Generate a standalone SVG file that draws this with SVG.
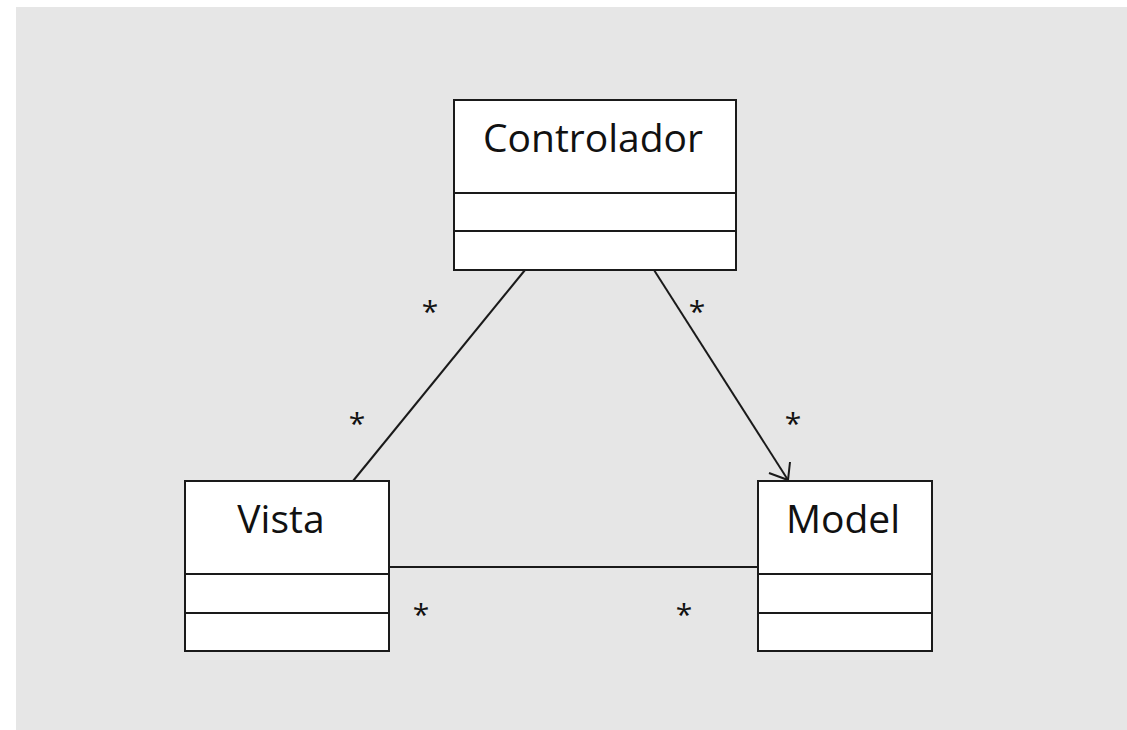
<svg xmlns="http://www.w3.org/2000/svg" width="1127" height="730" viewBox="0 0 1127 730">
  <style>
    .box { fill: #ffffff; stroke: #1a1a1a; stroke-width: 2; }
    .div { stroke: #1a1a1a; stroke-width: 2; }
    .name { font-family: "Open Sans", "Noto Sans", sans-serif; font-size: 39px; fill: #111111; text-anchor: middle; }
    .mult { font-family: "Open Sans", "Noto Sans", sans-serif; font-size: 30px; fill: #111111; text-anchor: middle; }
    .edge { fill: none; stroke: #1a1a1a; stroke-width: 2; }
  </style>
  <rect x="0" y="0" width="1127" height="730" fill="#ffffff"/>
  <rect x="16" y="7" width="1111" height="723" fill="#e6e6e6"/>

  <g id="connectors">
    <line class="edge" x1="525" y1="270" x2="353" y2="481"/>
    <line class="edge" x1="654" y1="270" x2="788" y2="480"/>
    <polyline class="edge" points="790,462 788,480 769,473"/>
    <line class="edge" x1="389" y1="567" x2="758" y2="567"/>
    <text class="mult" x="430" y="322">*</text>
    <text class="mult" x="357" y="434">*</text>
    <text class="mult" x="697" y="322">*</text>
    <text class="mult" x="793" y="434">*</text>
    <text class="mult" x="421" y="625">*</text>
    <text class="mult" x="684" y="625">*</text>
  </g>

  <g id="controlador">
    <rect class="box" x="454" y="100" width="282" height="170"/>
    <line class="div" x1="454" y1="193" x2="736" y2="193"/>
    <line class="div" x1="454" y1="231" x2="736" y2="231"/>
    <text class="name" x="593" y="152">Controlador</text>
  </g>

  <g id="vista">
    <rect class="box" x="185" y="481" width="204" height="170"/>
    <line class="div" x1="185" y1="574" x2="389" y2="574"/>
    <line class="div" x1="185" y1="613" x2="389" y2="613"/>
    <text class="name" x="281" y="533">Vista</text>
  </g>

  <g id="model">
    <rect class="box" x="758" y="481" width="174" height="170"/>
    <line class="div" x1="758" y1="574" x2="932" y2="574"/>
    <line class="div" x1="758" y1="613" x2="932" y2="613"/>
    <text class="name" x="843" y="533">Model</text>
  </g>
</svg>
